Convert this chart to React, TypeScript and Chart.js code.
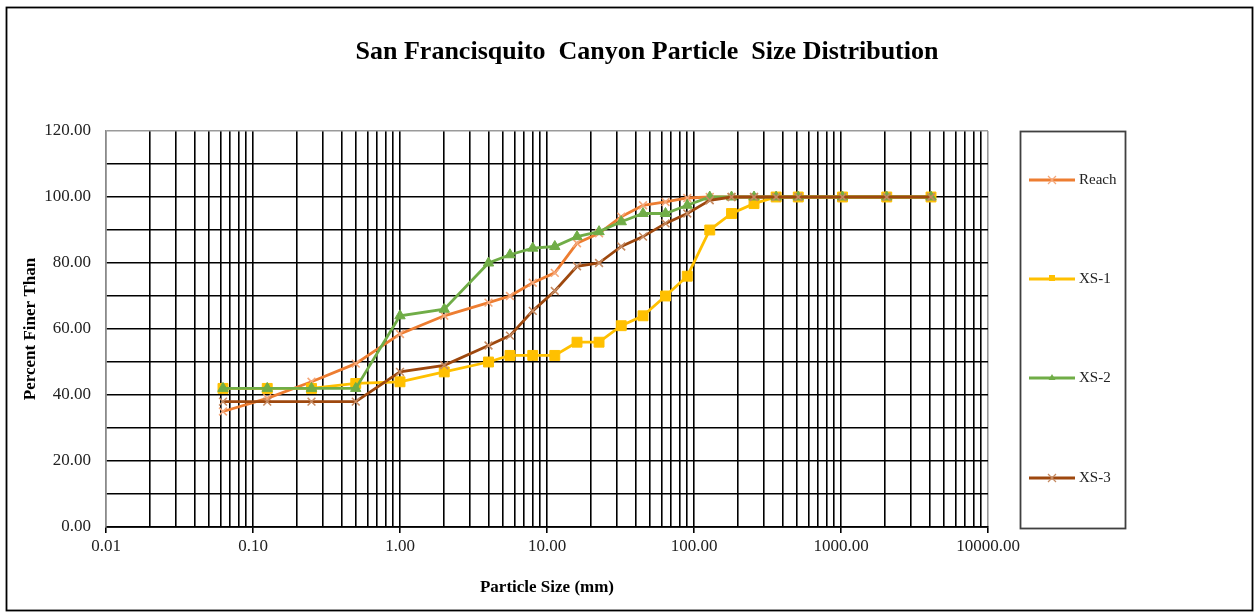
import React, { useEffect, useRef } from "react";
import { Chart, registerables } from "chart.js";

Chart.register(...registerables);

const TITLE = "San Francisquito  Canyon Particle  Size Distribution";
const X_TITLE = "Particle Size (mm)";
const Y_TITLE = "Percent Finer Than";

// particle sizes (mm)
const sizes = [0.0625, 0.125, 0.25, 0.5, 1, 2, 4, 5.6, 8, 11.3, 16, 22.6, 32, 45, 64, 90, 128, 180, 256, 362, 512, 1024, 2048, 4096];
// percent finer than
const reach = [35, 39, 44, 49.5, 58.5, 64, 68, 70, 74, 77, 86, 89, 94, 97.5, 98.5, 99.7, 100, 100, 100, 100, 100, 100, 100, 100];
const xs1 = [42, 42, 42, 43.5, 44, 47, 50, 52, 52, 52, 56, 56, 61, 64, 70, 76, 90, 95, 98, 100, 100, 100, 100, 100];
const xs2 = [42, 42, 42, 42, 64, 66, 80, 82.5, 84.5, 85, 88, 89.5, 92.5, 95, 95, 97.5, 100, 100, 100, 100, 100, 100, 100, 100];
const xs3 = [38, 38, 38, 38, 47, 49, 55, 58, 65.5, 71.5, 79, 80, 85, 88, 92, 95, 99, 100, 100, 100, 100, 100, 100, 100];

const seriesNames = ["Reach", "XS-1", "XS-2", "XS-3"];
const X_MAJOR_TICKS = [0.01, 0.1, 1, 10, 100, 1000, 10000];
const X_MINOR_MULTIPLIERS = [2, 3, 4, 5, 6, 7, 8, 9];
const Y_MIN = 0;
const Y_MAX = 120;
const Y_GRID_STEP = 10;
const Y_LABEL_STEP = 20;

const SERIF = "'Liberation Serif', 'Times New Roman', serif";

const isMajor = (v: number) =>
  X_MAJOR_TICKS.some((m) => Math.abs(m - v) / m < 1e-9);

const toPts = (arr: number[]) => sizes.map((x, i) => ({ x, y: arr[i] }));

const styles = [
  { line: "#ED7D31", point: "crossRot", pointColor: "#F4A77A", pointBg: "#F4A77A", radius: 5.5, pw: 1.6 },
  { line: "#FFC000", point: "rect", pointColor: "#FFC000", pointBg: "#FFC000", radius: 7, pw: 1 },
  { line: "#70AD47", point: "triangle", pointColor: "#70AD47", pointBg: "#70AD47", radius: 6, pw: 1 },
  { line: "#9E480E", point: "crossRot", pointColor: "#C58A62", pointBg: "#C58A62", radius: 5.5, pw: 1.6 },
];

const legendY = [180, 279, 378, 478];

const decoPlugin = {
  id: "deco",
  beforeDraw(chart: any) {
    const { ctx, width, height } = chart;
    ctx.save();
    ctx.fillStyle = "#ffffff";
    ctx.fillRect(0, 0, width, height);
    ctx.restore();
  },
  afterDraw(chart: any) {
    const { ctx } = chart;
    ctx.save();
    // outer border
    ctx.strokeStyle = "#000";
    ctx.lineWidth = 1.8;
    ctx.strokeRect(6.5, 7.5, 1246, 603);
    // title
    ctx.fillStyle = "#000";
    ctx.font = `bold 26px ${SERIF}`;
    ctx.textAlign = "center";
    ctx.textBaseline = "middle";
    ctx.fillText(TITLE, 647, 52);
    // legend box
    ctx.strokeStyle = "#404040";
    ctx.lineWidth = 1.8;
    ctx.strokeRect(1020.5, 131.5, 105, 397);
    chart.data.datasets.forEach((ds: any, i: number) => {
      const y = legendY[i];
      const st = styles[i];
      ctx.strokeStyle = st.line;
      ctx.lineWidth = 3;
      ctx.beginPath();
      ctx.moveTo(1029, y);
      ctx.lineTo(1075, y);
      ctx.stroke();
      const cx = 1052;
      ctx.fillStyle = st.pointBg;
      ctx.strokeStyle = st.pointColor;
      ctx.lineWidth = 1.2;
      if (st.point === "crossRot") {
        ctx.beginPath();
        ctx.moveTo(cx - 4, y - 4);
        ctx.lineTo(cx + 4, y + 4);
        ctx.moveTo(cx - 4, y + 4);
        ctx.lineTo(cx + 4, y - 4);
        ctx.stroke();
      } else if (st.point === "rect") {
        ctx.fillRect(cx - 3, y - 4, 6, 6);
      } else {
        ctx.beginPath();
        ctx.moveTo(cx, y - 4);
        ctx.lineTo(cx + 3.5, y + 2);
        ctx.lineTo(cx - 3.5, y + 2);
        ctx.closePath();
        ctx.fill();
      }
      ctx.fillStyle = "#222";
      ctx.font = `15px ${SERIF}`;
      ctx.textAlign = "left";
      ctx.textBaseline = "middle";
      ctx.fillText(ds.label, 1079, y);
    });
    ctx.restore();
  },
};

export default function App() {
  const canvasRef = useRef<HTMLCanvasElement | null>(null);

  useEffect(() => {
    if (!canvasRef.current) return;
    const allSeries = [reach, xs1, xs2, xs3];
    const chart = new Chart(canvasRef.current, {
      type: "line",
      data: {
        datasets: allSeries.map((arr, i) => ({
          label: seriesNames[i],
          data: toPts(arr),
          borderColor: styles[i].line,
          borderWidth: 2.8,
          backgroundColor: styles[i].pointBg,
          pointStyle: styles[i].point as any,
          pointRadius: styles[i].radius,
          pointBorderColor: styles[i].pointColor,
          pointBackgroundColor: styles[i].pointBg,
          pointBorderWidth: styles[i].pw,
          tension: 0,
          fill: false,
          order: 4 - i,
        })),
      },
      options: {
        animation: false,
        responsive: true,
        maintainAspectRatio: false,
        layout: { padding: { left: 6, top: 131, right: 271, bottom: 0 } },
        plugins: {
          legend: { display: false },
          title: { display: false },
          tooltip: { enabled: false },
        },
        scales: {
          x: {
            type: "logarithmic",
            min: 0.01,
            max: 10000,
            afterBuildTicks: (axis: any) => {
              const ticks: any[] = [];
              for (let d = 0; d < X_MAJOR_TICKS.length; d++) {
                const m = X_MAJOR_TICKS[d];
                ticks.push({ value: m });
                if (d < X_MAJOR_TICKS.length - 1) {
                  X_MINOR_MULTIPLIERS.forEach((k) => ticks.push({ value: m * k }));
                }
              }
              axis.ticks = ticks;
            },
            afterFit: (axis: any) => {
              axis.height = 86;
            },
            ticks: {
              autoSkip: false,
              maxRotation: 0,
              minRotation: 0,
              padding: 3,
              color: "#222",
              font: { family: SERIF, size: 17 },
              callback: (v: any) => (isMajor(Number(v)) ? Number(v).toFixed(2) : ""),
            },
            grid: {
              drawTicks: true,
              tickLength: 6,
              lineWidth: 1.6,
              color: (c: any) => {
                const v = c.tick ? c.tick.value : 0;
                if (Math.abs(v - 10000) < 1e-6 || Math.abs(v - 0.01) < 1e-9) return "#9a9a9a";
                return "#000";
              },
              tickColor: (c: any) => (c.tick && isMajor(c.tick.value) ? "#000" : "rgba(0,0,0,0)"),
            },
            border: { display: true, color: "#000", width: 1.8 },
            title: {
              display: true,
              text: X_TITLE,
              color: "#000",
              font: { family: SERIF, size: 17, weight: "bold" },
              padding: { top: 15, bottom: 15 },
            },
          },
          y: {
            type: "linear",
            min: Y_MIN,
            max: Y_MAX,
            afterFit: (axis: any) => {
              axis.width = 100;
            },
            ticks: {
              stepSize: Y_GRID_STEP,
              padding: 15,
              color: "#222",
              font: { family: SERIF, size: 17 },
              callback: (v: any) => (Number(v) % Y_LABEL_STEP === 0 ? Number(v).toFixed(2) : ""),
            },
            grid: {
              drawTicks: false,
              lineWidth: 1.6,
              color: (c: any) => {
                const v = c.tick ? c.tick.value : 0;
                if (v === Y_MAX) return "#9a9a9a";
                return "#000";
              },
            },
            border: { display: true, color: "#8a8a8a", width: 1.6 },
            title: {
              display: true,
              text: Y_TITLE,
              color: "#000",
              font: { family: SERIF, size: 17, weight: "bold" },
              padding: { top: 14, bottom: 14 },
            },
          },
        },
      } as any,
      plugins: [decoPlugin],
    });
    return () => chart.destroy();
  }, []);

  return (
    <div style={{ position: "absolute", left: 0, top: 0, width: 1259, height: 613 }}>
      <canvas ref={canvasRef} />
    </div>
  );
}
